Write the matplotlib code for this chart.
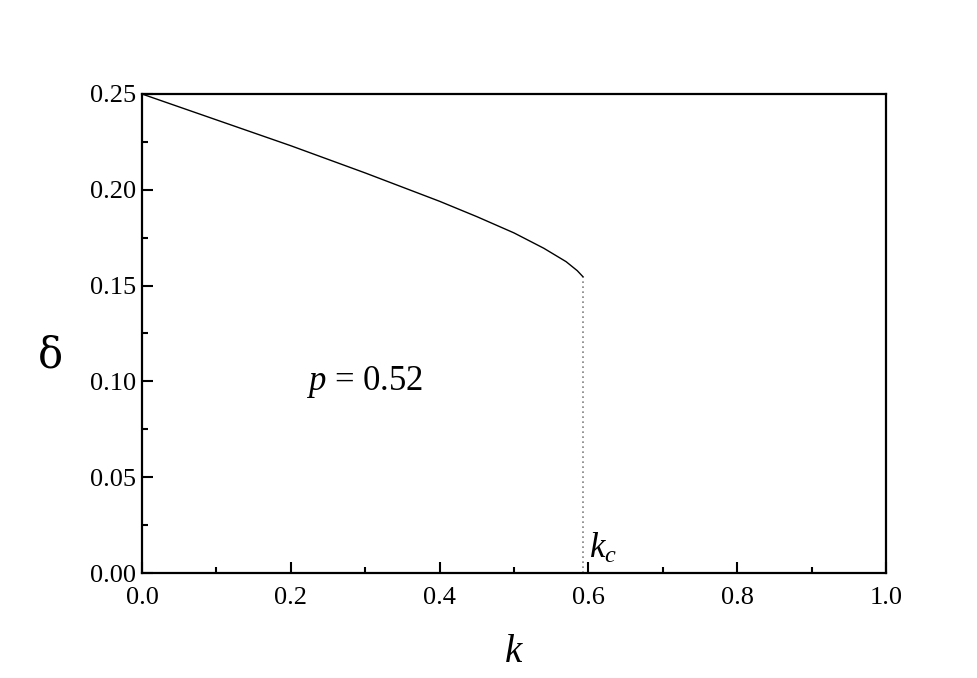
import matplotlib
matplotlib.use("Agg")
from matplotlib import pyplot as plt
from matplotlib.ticker import MultipleLocator

plt.rcParams['font.family'] = 'Liberation Serif'
plt.rcParams['mathtext.fontset'] = 'custom'
plt.rcParams['mathtext.rm'] = 'Liberation Serif'
plt.rcParams['mathtext.it'] = 'Liberation Serif:italic'

# values
k_vals = [0.0, 0.1, 0.2, 0.3, 0.4, 0.45, 0.5, 0.54, 0.57, 0.585, 0.593]
delta_vals = [0.25, 0.2365, 0.2230, 0.2088, 0.1940, 0.1860, 0.1775, 0.1695, 0.1625, 0.1578, 0.1545]
k_c = 0.593
delta_c = 0.1545

fig = plt.figure(figsize=(9.77, 6.78), dpi=100)
ax = fig.add_axes([142/977, 1-573/678, 744/977, 479/678])

ax.plot(k_vals, delta_vals, color='black', lw=1.0)
ax.plot([k_c, k_c], [0, delta_c], color='grey', lw=1.2, linestyle=(0, (1, 2)))

ax.set_xlim(0, 1.0)
ax.set_ylim(0, 0.25)
ax.xaxis.set_major_locator(MultipleLocator(0.2))
ax.xaxis.set_minor_locator(MultipleLocator(0.1))
ax.yaxis.set_major_locator(MultipleLocator(0.05))
ax.yaxis.set_minor_locator(MultipleLocator(0.025))
ax.xaxis.set_major_formatter(lambda v, pos: f"{v:.1f}")
ax.yaxis.set_major_formatter(lambda v, pos: f"{v:.2f}")

ax.tick_params(which='both', direction='in', top=False, right=False, width=1.5, labelsize=19)
ax.tick_params(which='major', length=8)
ax.tick_params(which='minor', length=4)
ax.tick_params(axis='x', which='major', pad=10)
ax.tick_params(axis='y', which='major', pad=4)
for s in ax.spines.values():
    s.set_linewidth(1.6)

ax.set_xlabel(r'$k$', fontsize=28)
ax.xaxis.set_label_coords(0.5, -0.128)
ax.set_ylabel('δ', fontsize=30, rotation=0, va='center', family='DejaVu Serif')
ax.yaxis.set_label_coords(-0.123, 0.455)

ax.text(0.22, 0.0995, r'$p$ = 0.52', fontsize=25, va='center')
ax.text(k_c + 0.008, 0.008, r'$k_c$', fontsize=25)

fig.savefig('out.png', dpi=100)
